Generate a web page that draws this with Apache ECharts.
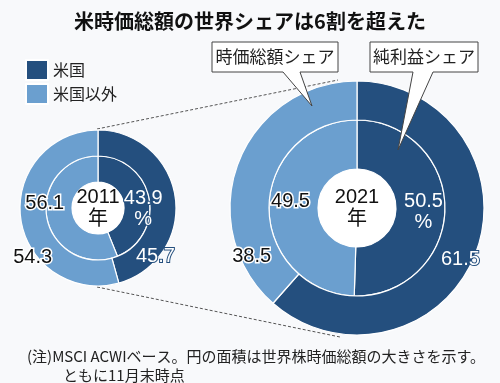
<!DOCTYPE html>
<html><head><meta charset="utf-8">
<script src="https://cdn.jsdelivr.net/npm/echarts@6/dist/echarts.min.js"></script>
<style>html,body{margin:0;padding:0;background:#f8f9fb}#c{width:500px;height:383px}</style>
</head><body><div id="c"></div>
<script>
// ---- data ----
const categories = ['米国', '米国以外'];
const years = ['2011', '2021'];
const capShare2011 = [45.7, 54.3];     // 時価総額シェア (outer ring)
const profitShare2011 = [43.9, 56.1];  // 純利益シェア (inner ring)
const capShare2021 = [61.5, 38.5];
const profitShare2021 = [50.5, 49.5];
const calloutTexts = ['時価総額シェア', '純利益シェア'];
const titleText = '米時価総額の世界シェアは6割を超えた';
const noteLines = ['(注)MSCI ACWIベース。円の面積は世界株時価総額の大きさを示す。', 'ともに11月末時点'];

// ---- styles ----
const DARK = '#244f7e', LIGHT = '#6b9fcf';
const FONT = '"Liberation Sans", "Noto Sans CJK JP", sans-serif';
const JP = '"Noto Sans CJK JP", sans-serif';

function ringData(vals, pctOnUS) {
  return vals.map((v, i) => ({
    value: v, name: categories[i],
    itemStyle: { color: i === 0 ? DARK : LIGHT },
    label: i === 0
      ? { color: '#fff', textBorderColor: DARK, textBorderWidth: 2, formatter: pctOnUS ? '{c}\n%' : '{c}' }
      : { color: '#111', textBorderColor: '#fff', textBorderWidth: 3, formatter: '{c}' }
  }));
}
function ring(center, radius, vals, pct, offs) {
  return {
    type: 'pie', center: center, radius: radius, startAngle: 90, clockwise: true,
    avoidLabelOverlap: false, z: 3, silent: true,
    itemStyle: { borderColor: '#fff', borderWidth: 1.2 },
    label: { show: true, position: 'inside', fontFamily: FONT, fontSize: 20, lineHeight: 21 },
    labelLine: { show: false },
    labelLayout: p => ({ dx: offs[p.dataIndex][0], dy: offs[p.dataIndex][1] }),
    data: ringData(vals, pct)
  };
}
function hole(center, r, yr) {
  return {
    type: 'pie', center: center, radius: [0, r], z: 4, silent: true,
    itemStyle: { color: '#fff' },
    label: { show: true, position: 'center', formatter: '{b}\n年', fontFamily: FONT, fontSize: 20, lineHeight: 22, color: '#111' },
    labelLine: { show: false },
    data: [{ value: 1, name: yr }]
  };
}

const C1 = [98, 208], C2 = [357, 208];
const option = {
  backgroundColor: '#f8f9fb',
  animation: false,
  title: [
    { text: titleText, left: 'center', top: 6, textStyle: { fontFamily: JP, fontSize: 20, fontWeight: 'bold', color: '#111' } },
    { text: noteLines[0], left: 22, top: 344, textStyle: { fontFamily: JP, fontSize: 15, fontWeight: 'normal', color: '#222' } },
    { text: noteLines[1], left: 58, top: 363, textStyle: { fontFamily: JP, fontSize: 15, fontWeight: 'normal', color: '#222' } }
  ],
  legend: {
    data: categories, orient: 'vertical', left: 20, top: 54, itemWidth: 22, itemHeight: 20, itemGap: 2,
    icon: 'rect', selectedMode: false,
    textStyle: { fontFamily: JP, fontSize: 16, color: '#222' }
  },
  series: [
    ring(C1, [26, 52], profitShare2011, true, [[4, 9], [-12, -13]]),
    ring(C1, [52, 78], capShare2011, false, [[-10, 58], [2, 40]]),
    hole(C1, 26, years[0]),
    ring(C2, [39, 88], profitShare2021, true, [[0, 3], [0, -5]]),
    ring(C2, [88, 127], capShare2021, false, [[0, 12], [-2, 88]]),
    hole(C2, 39, years[1])
  ],
  graphic: [
    { type: 'line', z: 1, shape: { x1: 97, y1: 129, x2: 338, y2: 80 }, style: { stroke: '#555', lineWidth: 1, lineDash: [3, 2] } },
    { type: 'line', z: 1, shape: { x1: 97, y1: 287, x2: 340, y2: 337 }, style: { stroke: '#555', lineWidth: 1, lineDash: [3, 2] } },
    { type: 'polygon', z: 10, shape: { points: [[212, 42], [338, 42], [338, 72], [300, 72], [312, 106], [283, 72], [212, 72]] },
      style: { fill: '#fff', stroke: '#444', lineWidth: 1 } },
    { type: 'text', z: 11, x: 275, y: 57, style: { text: calloutTexts[0], font: '17px ' + JP, fill: '#222', align: 'center', verticalAlign: 'middle' } },
    { type: 'polygon', z: 10, shape: { points: [[370, 42], [478, 42], [478, 72], [433, 72], [398, 150], [413, 72], [370, 72]] },
      style: { fill: '#fff', stroke: '#444', lineWidth: 1 } },
    { type: 'text', z: 11, x: 424, y: 57, style: { text: calloutTexts[1], font: '17px ' + JP, fill: '#222', align: 'center', verticalAlign: 'middle' } }
  ]
};
echarts.init(document.getElementById('c')).setOption(option);
</script></body></html>
